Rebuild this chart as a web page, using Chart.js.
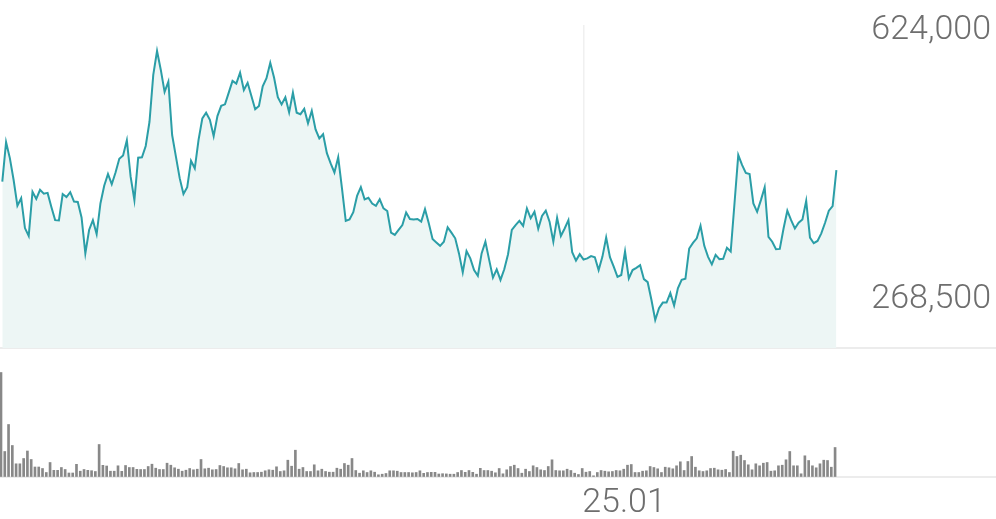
<!DOCTYPE html>
<html>
<head>
<meta charset="utf-8">
<script src="https://cdn.jsdelivr.net/npm/chart.js@4.4.1/dist/chart.umd.min.js"></script>
<style>
  html, body { margin: 0; padding: 0; background: #fff; }
  #wrap { position: relative; width: 996px; height: 519px; overflow: hidden; }
  canvas { position: absolute; left: 0; }
  #price { top: 0; }
  #volume { top: 350px; }
</style>
</head>
<body>
<div id="wrap">
  <canvas id="price" width="996" height="350"></canvas>
  <canvas id="volume" width="996" height="169"></canvas>
</div>
<script>
// daily close, one value per trading day
const priceValues = [
  451500, 503500, 482500, 453500, 419500, 429500, 390000, 379500, 438000, 428500,
  440500, 435500, 436500, 418000, 400500, 400000, 435000, 431000, 437500, 425000,
  424500, 404000, 356500, 387500, 400500, 382000, 422500, 446000, 461500, 448000,
  463500, 481500, 486000, 506000, 458000, 427000, 483000, 483500, 498500, 530500,
  592500, 624000, 599000, 570000, 583500, 513000, 484500, 456000, 435000, 444000,
  479000, 469000, 506500, 535000, 542500, 533000, 511500, 538000, 551500, 553500,
  569000, 584500, 581000, 595500, 572500, 582000, 564500, 547000, 551500, 577500,
  588000, 608500, 589000, 563000, 553500, 563000, 543000, 569000, 542500, 540500,
  547500, 528500, 545000, 520500, 508500, 514000, 489000, 475500, 463500, 483500,
  442500, 399500, 401500, 411000, 432500, 444000, 428000, 430000, 422500, 419500,
  428000, 416000, 412500, 384000, 381000, 387500, 394000, 410500, 402000, 401500,
  402000, 398500, 415000, 396500, 375500, 371000, 366500, 372000, 391000, 384000,
  376500, 356500, 331500, 359500, 350000, 334500, 327000, 356500, 372000, 348000,
  324500, 335500, 321500, 335500, 355500, 387500, 394000, 399500, 393000, 416000,
  403000, 411500, 389000, 406000, 413000, 398500, 372000, 403500, 379500, 389500,
  400500, 358000, 347000, 355500, 348500, 350000, 353000, 351500, 334500, 352000,
  377500, 351500, 339000, 325500, 328000, 359000, 323500, 334500, 337500, 341000,
  322500, 318500, 295000, 268500, 284000, 291500, 291500, 304000, 287500, 310500,
  321500, 323000, 363000, 370500, 376500, 393000, 366500, 352000, 342000, 354500,
  349000, 349500, 364000, 359000, 422500, 486500, 473500, 463000, 461500, 422500,
  411500, 427000, 444000, 378500, 372000, 362000, 362500, 389500, 413000, 400500,
  389500, 397000, 401500, 426000, 377500, 370000, 373000, 383000, 397000, 413000,
  419000, 466500
];

const volumeValues = [
  104000, 25000, 52000, 31000, 12700, 12700, 18000, 25500, 17000, 9500,
  9500, 8000, 4000, 14000, 6200, 6200, 9000, 7000, 3500, 3500,
  12200, 5300, 7000, 6200, 5800, 5000, 32000, 11200, 10500, 5300,
  5300, 10700, 5200, 11000, 9000, 9000, 7200, 7000, 7000, 10000,
  12300, 8300, 7000, 7000, 13300, 11300, 8700, 7300, 5300, 6300,
  8000, 6700, 7300, 17000, 7700, 8300, 6700, 7000, 11000, 10000,
  8700, 8700, 7700, 13000, 6700, 7300, 3700, 4000, 4000, 4300,
  5700, 6700, 6300, 9700, 5000, 5700, 16300, 10300, 26300, 7300,
  9000, 5000, 5000, 11700, 5700, 7300, 5000, 4300, 4300, 8300,
  7300, 13000, 11300, 18000, 6000, 3300, 5700, 4000, 5700, 4300,
  1700, 2300, 3000, 5700, 5700, 5300, 4000, 4000, 4000, 3700,
  4000, 5700, 3200, 4000, 4200, 4200, 2500, 2800, 2600, 2300,
  2300, 4000, 6000, 4200, 6000, 4200, 2300, 8200, 6000, 6000,
  5300, 3700, 8000, 2700, 6700, 10000, 11300, 8000, 3300, 7300,
  5000, 10700, 9000, 6700, 6000, 10000, 16700, 6000, 5700, 5700,
  7300, 6000, 3300, 2000, 8000, 4300, 5000, 700, 4000, 6000,
  5300, 4700, 5000, 6000, 5700, 7300, 11300, 12000, 4000, 4000,
  5300, 5700, 10000, 9000, 7700, 4000, 9300, 8700, 7700, 10700,
  14700, 6000, 15000, 20000, 9300, 5700, 5000, 5700, 8000, 8300,
  6700, 6300, 7000, 4000, 25300, 20000, 21300, 16000, 11700, 6700,
  12700, 10700, 13300, 14000, 5300, 5700, 10700, 11300, 16700, 25000,
  10700, 10700, 2700, 20700, 16000, 10700, 8700, 12700, 16300, 16000,
  9300, 29000
];

const tickIndex = [154];
const tickLabels = ['25.01'];
const priceMarks = [624000, 268500];

const labelFont = { family: 'Roboto', size: 34, weight: '300' };
const labelColor = '#6e6e6e';

const noPad = (s) => {
  s.paddingTop = 0; s.paddingBottom = 0; s.paddingLeft = 0; s.paddingRight = 0;
};

function draw() {
  new Chart(document.getElementById('price'), {
    type: 'line',
    data: {
      datasets: [{
        data: priceValues.map((v, i) => ({ x: i, y: v })),
        borderColor: '#2b9ea7',
        borderWidth: 2,
        backgroundColor: '#edf6f5',
        fill: 'start',
        pointRadius: 0,
        tension: 0,
      }],
    },
    options: {
      responsive: false,
      animation: false,
      devicePixelRatio: 1,
      layout: { padding: { left: 0, right: 0, top: 25, bottom: 2 } },
      plugins: { legend: { display: false }, tooltip: { enabled: false } },
      scales: {
        x: {
          type: 'linear',
          min: -0.61,
          max: 263.29,
          afterBuildTicks: (s) => { s.ticks = tickIndex.map((v) => ({ value: v })); },
          afterFit: (s) => { s.height = 0; noPad(s); },
          ticks: { display: false },
          grid: { color: '#f0f0f0', lineWidth: 1.5, drawTicks: false },
          border: { color: '#ececec', width: 2 },
        },
        y: {
          position: 'right',
          min: 231500,
          max: 658400,
          afterBuildTicks: (s) => { s.ticks = priceMarks.map((v) => ({ value: v })); },
          afterFit: (s) => { s.width = 0; noPad(s); },
          grid: { display: false },
          border: { display: false },
          ticks: {
            mirror: true,
            padding: -5,
            labelOffset: -21,
            font: labelFont,
            color: labelColor,
            callback: (v) => v.toLocaleString('en-US'),
          },
        },
      },
    },
  });

  new Chart(document.getElementById('volume'), {
    type: 'bar',
    data: {
      datasets: [{
        data: volumeValues.map((v, i) => ({ x: i, y: v })),
        backgroundColor: '#888888',
        barThickness: 2,
        clip: false,
      }],
    },
    options: {
      responsive: false,
      animation: false,
      devicePixelRatio: 1,
      layout: { padding: { left: 0, right: 0, top: 22, bottom: 0 } },
      plugins: { legend: { display: false }, tooltip: { enabled: false } },
      scales: {
        x: {
          type: 'linear',
          min: -0.265,
          max: 263.64,
          offset: false,
          afterBuildTicks: (s) => { s.ticks = tickIndex.map((v) => ({ value: v })); },
          afterFit: (s) => { s.height = 42.5; noPad(s); },
          grid: { display: false, drawTicks: false },
          border: { color: '#ececec', width: 2 },
          ticks: {
            align: 'start',
            padding: 7,
            maxRotation: 0,
            autoSkip: false,
            font: labelFont,
            color: labelColor,
            callback: (v) => tickLabels[tickIndex.indexOf(v)],
          },
        },
        y: { display: false, min: 0, max: 104500 },
      },
    },
  });
}

if (document.fonts && document.fonts.load) {
  document.fonts.load('300 34px Roboto').then(draw, draw);
} else {
  draw();
}
</script>
</body>
</html>
